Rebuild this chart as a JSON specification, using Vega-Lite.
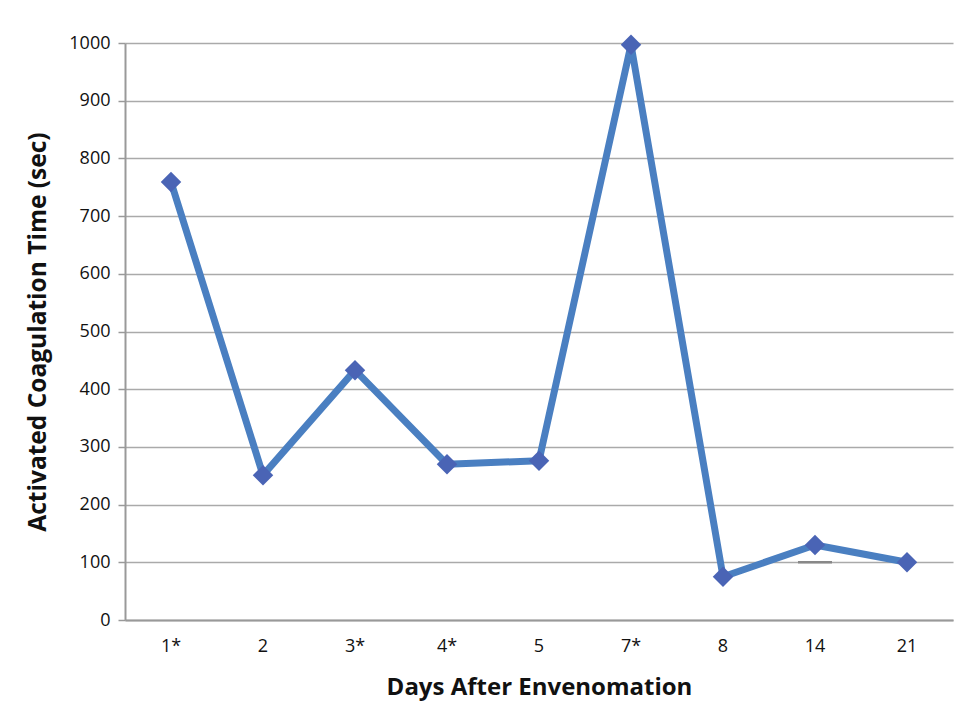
{
  "$schema": "https://vega.github.io/schema/vega-lite/v6.json",
  "width": 828,
  "height": 577,
  "autosize": {"type": "none"},
  "padding": {"left": 125, "top": 43, "right": 6, "bottom": 92},
  "background": "white",
  "config": {
    "view": {"stroke": null},
    "font": "Open Sans",
    "axis": {"labelFont": "Open Sans", "titleFont": "Open Sans", "labelColor": "#111", "titleColor": "#111"}
  },
  "datasets": {
    "act": [
      {"day": "1*", "act": 759},
      {"day": "2", "act": 251},
      {"day": "3*", "act": 433},
      {"day": "4*", "act": 270},
      {"day": "5", "act": 276},
      {"day": "7*", "act": 997},
      {"day": "8", "act": 75},
      {"day": "14", "act": 130},
      {"day": "21", "act": 100}
    ],
    "mark": [
      {"day": "14", "act": 100}
    ]
  },
  "encoding": {
    "x": {
      "field": "day", "type": "ordinal", "sort": null,
      "scale": {"domain": ["1*", "2", "3*", "4*", "5", "7*", "8", "14", "21"], "paddingInner": 0, "paddingOuter": 0},
      "axis": {
        "title": "Days After Envenomation", "titleFontSize": 24, "titleFontWeight": "bold", "titlePadding": 20,
        "labelAngle": 0, "labelFontSize": 18, "labelPadding": 17, "ticks": false,
        "domainColor": "#999", "domainWidth": 2
      }
    },
    "y": {
      "field": "act", "type": "quantitative",
      "scale": {"domain": [0, 1000], "nice": false},
      "axis": {
        "title": "Activated Coagulation Time (sec)", "titleFontSize": 24.5, "titleFontWeight": "bold", "titlePadding": 18,
        "values": [0, 100, 200, 300, 400, 500, 600, 700, 800, 900, 1000], "format": "d",
        "labelFontSize": 18, "labelPadding": 8, "tickSize": 7, "tickColor": "#999", "tickWidth": 1.5,
        "domainColor": "#999", "domainWidth": 2,
        "gridColor": "#aaa", "gridWidth": 1.5
      }
    }
  },
  "layer": [
    {
      "data": {"name": "mark"},
      "mark": {"type": "tick", "color": "#888", "thickness": 2.5, "size": 34, "opacity": 1}
    },
    {
      "data": {"name": "act"},
      "mark": {"type": "line", "color": "#4a7fc1", "strokeWidth": 7, "strokeJoin": "round"}
    },
    {
      "data": {"name": "act"},
      "mark": {"type": "point", "shape": "diamond", "filled": true, "size": 420, "color": "#4a64b5", "opacity": 1}
    }
  ]
}
